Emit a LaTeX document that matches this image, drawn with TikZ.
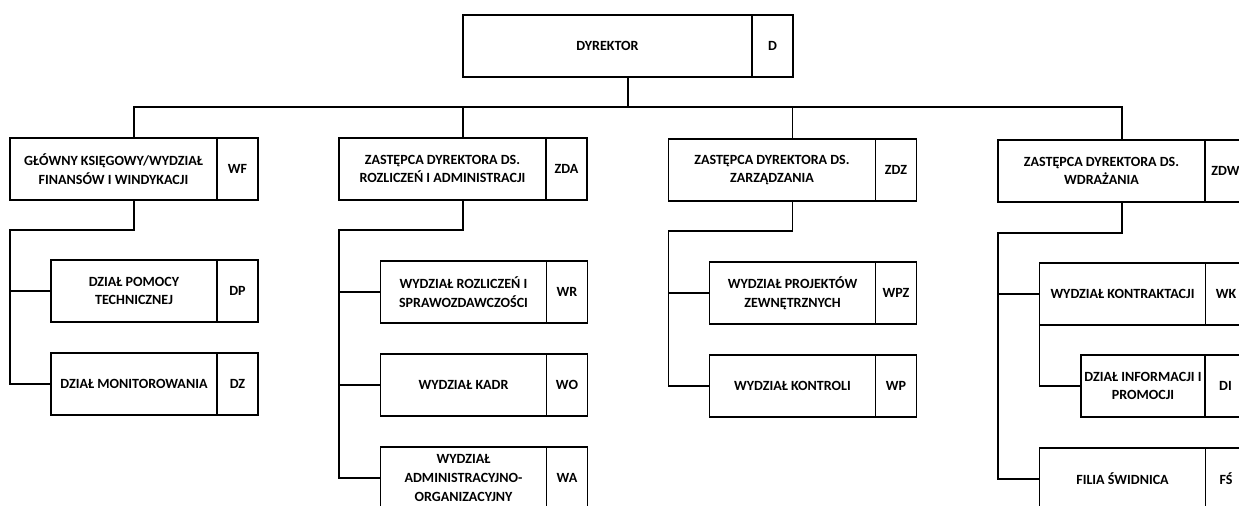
\documentclass[tikz,border=0pt]{standalone}
\usepackage{fontspec}
\setmainfont{Carlito}
\usepackage{tikz}
\usetikzlibrary{positioning,calc}

\tikzset{
  unit/.style={draw, line width=0.8pt, outer sep=0pt, inner sep=1pt,
    minimum width=4.14cm, minimum height=1.24cm, align=center,
    font=\fontsize{8}{10.6}\selectfont\bfseries},
  subunit/.style={unit, minimum width=3.32cm},
  code/.style={unit, minimum width=0.82cm},
  link/.style={line width=0.8pt}
}

\begin{document}
\begin{tikzpicture}[x=0.02cm, y=0.02cm]
        \useasboundingbox (0, 0) rectangle (1239, -506);
        \clip (0, 0) rectangle (1239, -506);

        % Draw units

        \node[unit, minimum width=5.78cm] (D) at (607.5, -46) {DYREKTOR};
        \node[code, right=0pt of D] (D-c) {D};

        \node[unit] (WF) at (113.5, -169) {GŁÓWNY KSIĘGOWY/WYDZIAŁ\\FINANSÓW I WINDYKACJI};
        \node[code, right=0pt of WF] (WF-c) {WF};
        \node[unit] (ZDA) at (442.5, -169) {ZASTĘPCA DYREKTORA DS.\\ROZLICZEŃ I ADMINISTRACJI};
        \node[code, right=0pt of ZDA] (ZDA-c) {ZDA};
        \node[unit] (ZDZ) at (772, -170) {ZASTĘPCA DYREKTORA DS.\\ZARZĄDZANIA};
        \node[code, right=0pt of ZDZ] (ZDZ-c) {ZDZ};
        \node[unit] (ZDW) at (1101.5, -171) {ZASTĘPCA DYREKTORA DS.\\WDRAŻANIA};
        \node[code, right=0pt of ZDW] (ZDW-c) {ZDW};

        \node[subunit] (DP) at (134, -291) {DZIAŁ POMOCY\\TECHNICZNEJ};
        \node[code, right=0pt of DP] (DP-c) {DP};
        \node[subunit] (DZ) at (134, -384) {DZIAŁ MONITOROWANIA};
        \node[code, right=0pt of DZ] (DZ-c) {DZ};

        \node[subunit] (WR) at (463.5, -292) {WYDZIAŁ ROZLICZEŃ I\\SPRAWOZDAWCZOŚCI};
        \node[code, right=0pt of WR] (WR-c) {WR};
        \node[subunit] (WO) at (463.5, -385) {WYDZIAŁ KADR};
        \node[code, right=0pt of WO] (WO-c) {WO};
        \node[subunit] (WA) at (463.5, -478) {WYDZIAŁ\\ADMINISTRACYJNO-\\ORGANIZACYJNY};
        \node[code, right=0pt of WA] (WA-c) {WA};

        \node[subunit] (WPZ) at (792.5, -293) {WYDZIAŁ PROJEKTÓW\\ZEWNĘTRZNYCH};
        \node[code, right=0pt of WPZ] (WPZ-c) {WPZ};
        \node[subunit] (WP) at (792.5, -386) {WYDZIAŁ KONTROLI};
        \node[code, right=0pt of WP] (WP-c) {WP};

        \node[subunit] (WK) at (1122.5, -294) {WYDZIAŁ KONTRAKTACJI};
        \node[code, right=0pt of WK] (WK-c) {WK};
        \node[subunit, minimum width=2.48cm] (DI) at (1143, -386) {DZIAŁ INFORMACJI I\\PROMOCJI};
        \node[code, right=0pt of DI] (DI-c) {DI};
        \node[subunit] (FS) at (1122.5, -479) {FILIA ŚWIDNICA};
        \node[code, right=0pt of FS] (FS-c) {FŚ};

        % Middle points of the whole boxes
        \foreach \u in {D, WF, ZDA, ZDZ, ZDW} {
          \coordinate (\u-n) at ($(\u.north west)!.5!(\u-c.north east)$);
          \coordinate (\u-s) at ($(\u.south west)!.5!(\u-c.south east)$);
        }

        % Draw links
        \draw[link] (D-s) -- ++(0, -30) coordinate (bus);
        \draw[link] (WF-n) |- (bus) -| (ZDW-n);
        \draw[link] (ZDA-n) -- (ZDA-n |- bus);
        \draw[link] (ZDZ-n) -- (ZDZ-n |- bus);

        \draw[link] (WF-s) -- ++(0, -30) coordinate (wf-b) -- (wf-b -| WF.west) |- (DZ.west);
        \draw[link] (DP.west) -- (DP.west -| WF.west);

        \draw[link] (ZDA-s) -- ++(0, -30) coordinate (zda-b) -- (zda-b -| ZDA.west) |- (WA.west);
        \draw[link] (WR.west) -- (WR.west -| ZDA.west);
        \draw[link] (WO.west) -- (WO.west -| ZDA.west);

        \draw[link] (ZDZ-s) -- ++(0, -30) coordinate (zdz-b) -- (zdz-b -| ZDZ.west) |- (WP.west);
        \draw[link] (WPZ.west) -- (WPZ.west -| ZDZ.west);

        \draw[link] (ZDW-s) -- ++(0, -31) coordinate (zdw-b) -- (zdw-b -| ZDW.west) |- (FS.west);
        \draw[link] (WK.west) -- (WK.west -| ZDW.west);
        \draw[link] (WK.south west) |- (DI.west);
\end{tikzpicture}
\end{document}
